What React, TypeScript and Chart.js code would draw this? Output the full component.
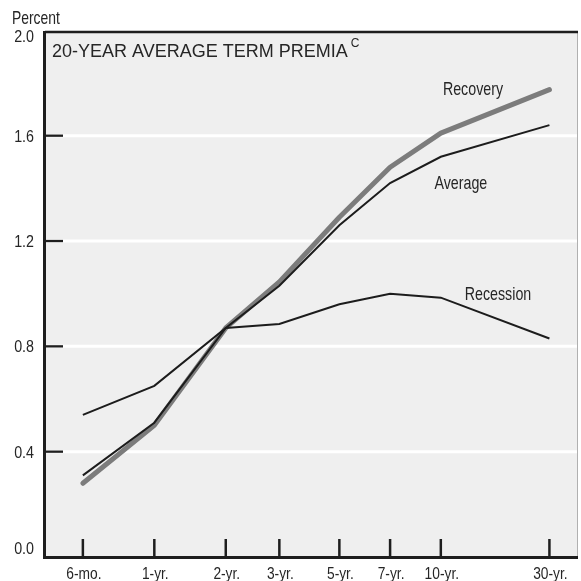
import React, { useEffect, useRef } from "react";
import { Chart, registerables } from "chart.js";

Chart.register(...registerables);

// ---- data ----
const maturities = ["6-mo.", "1-yr.", "2-yr.", "3-yr.", "5-yr.", "7-yr.", "10-yr.", "30-yr."];
// position of each maturity along the (non-uniform) horizontal axis
const maturityAxisPos = [0, 1, 2, 2.75, 3.59, 4.3, 5.01, 6.53];
const average = [0.31, 0.51, 0.87, 1.03, 1.26, 1.42, 1.52, 1.64];
const recession = [0.54, 0.65, 0.87, 0.885, 0.96, 1.0, 0.985, 0.83];
const recovery = [0.28, 0.5, 0.87, 1.045, 1.29, 1.48, 1.61, 1.775];
const seriesNames = ["Average", "Recession", "Recovery"];
const seriesLabelX = [5.29, 5.81, 5.46];
const seriesLabelY = [1.396, 0.976, 1.755];
const yTicks = [0, 0.4, 0.8, 1.2, 1.6, 2.0];
const titleText = "20-YEAR AVERAGE TERM PREMIA";
const titleNote = "C";
const yUnit = "Percent";

const FONT = '"Liberation Sans", Arial, Helvetica, sans-serif';
const TEXT = "#262626";

function drawText(
  ctx: CanvasRenderingContext2D,
  text: string,
  x: number,
  y: number,
  align: CanvasTextAlign,
  size: number,
  sx: number
) {
  ctx.save();
  ctx.font = `${size}px ${FONT}`;
  ctx.fillStyle = TEXT;
  ctx.textBaseline = "alphabetic";
  ctx.textAlign = align;
  ctx.translate(x, y);
  ctx.scale(sx, 1);
  ctx.fillText(text, 0, 0);
  ctx.restore();
}

function seg(ctx: CanvasRenderingContext2D, x1: number, y1: number, x2: number, y2: number) {
  ctx.beginPath();
  ctx.moveTo(x1, y1);
  ctx.lineTo(x2, y2);
  ctx.stroke();
}

const decor = {
  id: "decor",
  beforeDraw(chart: any) {
    const { ctx, chartArea: a, scales } = chart;
    ctx.save();
    ctx.fillStyle = "#ffffff";
    ctx.fillRect(0, 0, chart.width, chart.height);
    ctx.fillStyle = "#efefef";
    ctx.fillRect(a.left, a.top, a.right - a.left, a.bottom - a.top);
    ctx.strokeStyle = "#ffffff";
    ctx.lineWidth = 3;
    yTicks.forEach((v) => {
      if (v <= 0 || v >= scales.y.max) return;
      const y = scales.y.getPixelForValue(v);
      seg(ctx, a.left, y, a.right, y);
    });
    ctx.restore();
  },
  afterDatasetsDraw(chart: any) {
    const { ctx, chartArea: a, scales } = chart;
    ctx.save();
    // frame
    ctx.strokeStyle = "#b0b0b0";
    ctx.lineWidth = 1;
    seg(ctx, a.right - 0.5, a.top, a.right - 0.5, a.bottom);
    ctx.strokeStyle = "#1e1e1e";
    ctx.lineWidth = 2.5;
    seg(ctx, a.left, a.top - 1, a.right, a.top - 1);
    ctx.lineWidth = 3;
    seg(ctx, a.left - 0.5, a.top - 2, a.left - 0.5, a.bottom + 2);
    seg(ctx, a.left - 2, a.bottom + 0.5, a.right, a.bottom + 0.5);
    // y ticks (inside)
    ctx.lineWidth = 2.3;
    yTicks.forEach((v) => {
      if (v <= 0 || v >= scales.y.max) return;
      const y = scales.y.getPixelForValue(v);
      seg(ctx, a.left, y, a.left + 18, y);
    });
    // x ticks (inside)
    ctx.lineWidth = 2.5;
    maturityAxisPos.forEach((p) => {
      const x = scales.x.getPixelForValue(p);
      seg(ctx, x, a.bottom - 18, x, a.bottom);
    });
    ctx.restore();

    // y tick labels
    yTicks.forEach((v) => {
      const y = scales.y.getPixelForValue(v);
      const base = Math.min(Math.max(y + 6, a.top + 9), a.bottom - 3);
      drawText(ctx, v.toFixed(1), 34, base, "right", 17, 0.84);
    });
    // x tick labels
    maturities.forEach((m, i) => {
      const x = scales.x.getPixelForValue(maturityAxisPos[i]);
      drawText(ctx, m, x + 1, a.bottom + 22, "center", 16, 0.86);
    });
    // axis unit
    drawText(ctx, yUnit, 12, 24, "left", 18.5, 0.75);
    // title
    ctx.save();
    ctx.font = `18px ${FONT}`;
    const w = ctx.measureText(titleText).width;
    ctx.restore();
    drawText(ctx, titleText, a.left + 7, a.top + 23.5, "left", 18, 1);
    drawText(ctx, titleNote, a.left + 7 + w + 3, a.top + 14, "left", 12, 1);
    // series labels
    seriesNames.forEach((n, i) => {
      const x = scales.x.getPixelForValue(seriesLabelX[i]);
      const y = scales.y.getPixelForValue(seriesLabelY[i]);
      drawText(ctx, n, x, y, "center", 18.5, 0.77);
    });
  },
};

export default function App() {
  const ref = useRef<HTMLCanvasElement | null>(null);
  useEffect(() => {
    if (!ref.current) return;
    const pts = (vals: number[]) => vals.map((v, i) => ({ x: maturityAxisPos[i], y: v }));
    const chart = new Chart(ref.current, {
      type: "line",
      data: {
        datasets: [
          {
            label: seriesNames[0],
            data: pts(average),
            borderColor: "#1c1c1c",
            borderWidth: 2,
            pointRadius: 0,
            tension: 0,
          },
          {
            label: seriesNames[1],
            data: pts(recession),
            borderColor: "#1c1c1c",
            borderWidth: 2,
            pointRadius: 0,
            tension: 0,
          },
          {
            label: seriesNames[2],
            data: pts(recovery),
            borderColor: "#7c7c7c",
            borderWidth: 5,
            borderCapStyle: "round",
            borderJoinStyle: "round",
            pointRadius: 0,
            tension: 0,
          },
        ],
      },
      options: {
        animation: false,
        responsive: true,
        maintainAspectRatio: false,
        layout: { padding: { left: 45, right: 3, top: 33, bottom: 24 } },
        plugins: { legend: { display: false }, tooltip: { enabled: false }, title: { display: false } },
        scales: {
          x: { type: "linear", min: -0.53, max: 6.93, display: false },
          y: { type: "linear", min: 0, max: 1.99, display: false },
        },
      },
      plugins: [decor],
    });
    return () => chart.destroy();
  }, []);
  return (
    <div style={{ position: "absolute", left: 0, top: 0, width: 581, height: 581, background: "#fff" }}>
      <canvas ref={ref} />
    </div>
  );
}
